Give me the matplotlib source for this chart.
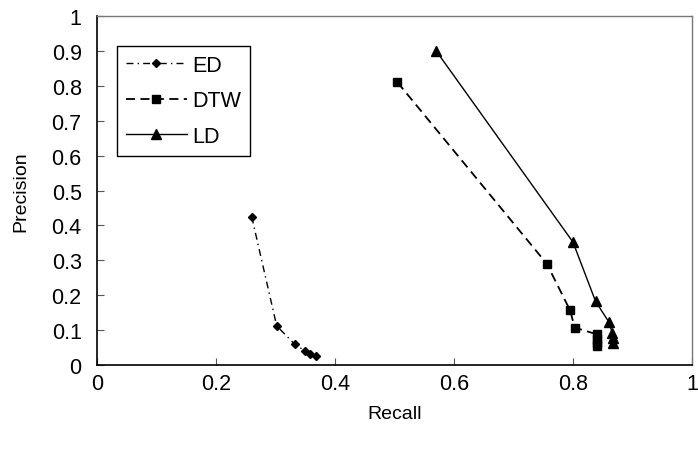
import matplotlib
matplotlib.use("Agg")
import matplotlib.pyplot as plt

plt.rcParams['font.family'] = ['Liberation Sans', 'DejaVu Sans']

ed_x = [0.26, 0.302, 0.332, 0.350, 0.358, 0.368]
ed_y = [0.425, 0.112, 0.060, 0.040, 0.032, 0.026]
dtw_x = [0.505, 0.756, 0.795, 0.803, 0.840, 0.840, 0.840, 0.840]
dtw_y = [0.810, 0.290, 0.157, 0.107, 0.088, 0.075, 0.064, 0.054]
ld_x = [0.570, 0.800, 0.838, 0.860, 0.866, 0.867, 0.868]
ld_y = [0.900, 0.352, 0.182, 0.124, 0.092, 0.077, 0.062]

xticks = [0, 0.2, 0.4, 0.6, 0.8, 1]
xtick_labels = ['0', '0.2', '0.4', '0.6', '0.8', '1']
yticks = [0, 0.1, 0.2, 0.3, 0.4, 0.5, 0.6, 0.7, 0.8, 0.9, 1]
ytick_labels = ['0', '0.1', '0.2', '0.3', '0.4', '0.5', '0.6', '0.7', '0.8', '0.9', '1']

fig = plt.figure(figsize=(6.98, 4.52), dpi=100)
ax = fig.add_axes([97/698, 86/452, 595/698, 349/452])

ax.plot(ed_x, ed_y, color='black', linestyle=(0, (5, 3, 1, 3)), linewidth=1.0,
        marker='D', markersize=4.5, label='ED')
ax.plot(dtw_x, dtw_y, color='black', linestyle=(0, (5, 3)), linewidth=1.3,
        marker='s', markersize=5.5, label='DTW')
ax.plot(ld_x, ld_y, color='black', linestyle='-', linewidth=1.0,
        marker='^', markersize=6.5, label='LD')

ax.set_xlim(0, 1)
ax.set_ylim(0, 1)
ax.set_xticks(xticks)
ax.set_xticklabels(xtick_labels)
ax.set_yticks(yticks)
ax.set_yticklabels(ytick_labels)
ax.tick_params(direction='in', length=5, labelsize=15.5, color='#555555')
ax.tick_params(axis='x', pad=6)
ax.tick_params(axis='y', pad=11)
for s in ['left', 'bottom']:
    ax.spines[s].set_color('black')
    ax.spines[s].set_linewidth(1.2)
for s in ['top', 'right']:
    ax.spines[s].set_color('#777777')
    ax.spines[s].set_linewidth(1.0)

ax.set_xlabel('Recall', fontsize=14, labelpad=8)
ax.set_ylabel('Precision', fontsize=14, labelpad=16)

leg = ax.legend(loc='upper left', bbox_to_anchor=(0.034, 0.915), borderaxespad=0,
                fontsize=15.5, fancybox=False, edgecolor='black', framealpha=1,
                handlelength=2.8, borderpad=0.42, labelspacing=0.68,
                handletextpad=0.25)
leg.get_frame().set_linewidth(1.0)

fig.savefig('out.png', dpi=100)
